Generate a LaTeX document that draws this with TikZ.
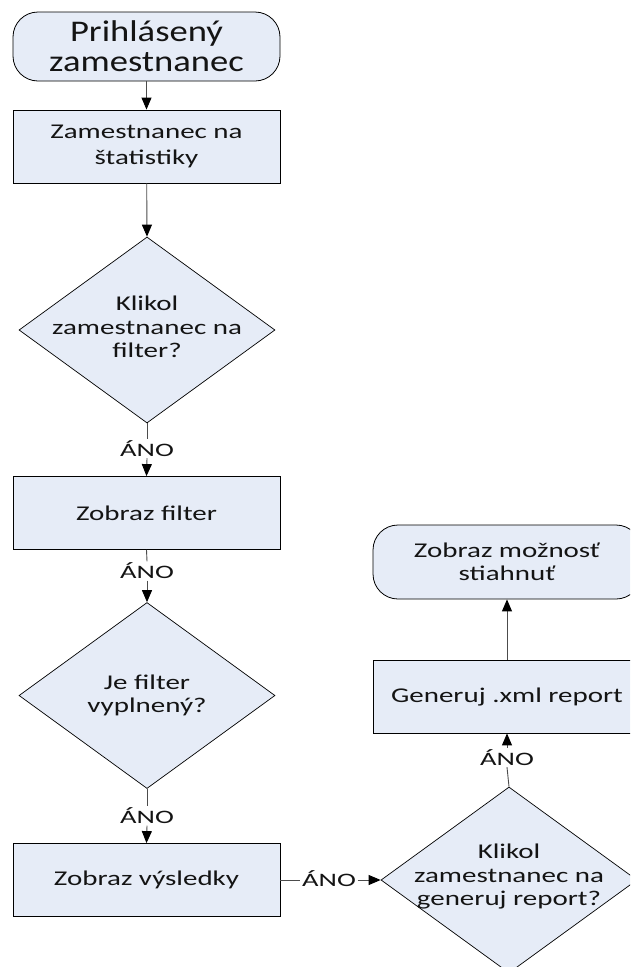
\documentclass[tikz,border=0pt]{standalone}
\usepackage{fontspec}
\setmainfont{Carlito}
\newfontfamily\topfont{Carlito}[FakeStretch=1.22]
\newfontfamily\bodyfont{Carlito}[FakeStretch=1.38]
\newfontfamily\anofont{Carlito}[FakeStretch=1.5]
\usetikzlibrary{shapes.geometric,arrows.meta}
\definecolor{boxfill}{RGB}{230,236,247}
\begin{document}
\begin{tikzpicture}[x=1pt,y=-1pt,
  every node/.style={inner sep=0pt, text=black!92},
  term/.style={rectangle, rounded corners=25pt, draw=black, line width=0.8pt, fill=boxfill,
    align=center, minimum width=267pt, minimum height=69pt},
  proc/.style={rectangle, draw=black, line width=0.8pt, fill=boxfill, align=center,
    minimum width=267pt, minimum height=73pt, font=\bodyfont\fontsize{21}{26.5}\selectfont},
  dec/.style={diamond, draw=black, line width=0.7pt, fill=boxfill,
    minimum width=256pt, minimum height=186pt},
  dectext/.style={align=center, font=\bodyfont\fontsize{21}{23.5}\selectfont},
  ano/.style={inner sep=1.5pt, font=\anofont\fontsize{19}{19}\selectfont},
  conn/.style={draw=black!70, line width=0.9pt},
  arr/.style={conn, -{Triangle[width=10pt,length=12pt,color=black]}}]
\useasboundingbox (0,0) rectangle (630,967);
\clip (0,0) rectangle (630,967);
\fill[white] (0,0) rectangle (630,967);

% left column
\node[term, font=\topfont\fontsize{30}{30}\selectfont] (t1) at (146.5,46.5) {Prihlásený\\zamestnanec};
\node[proc] (b1) at (146.5,146.5) {Zamestnanec na\\štatistiky};
\node[dec, label={[dectext, yshift=3pt]center:{Klikol\\zamestnanec na\\filter?}}] (d1) at (147,330) {};
\node[ano] (a1) at (147,448.5) {ÁNO};
\node[proc] (b2) at (146.5,513) {Zobraz filter};
\node[ano] (a2) at (147,571) {ÁNO};
\node[dec, label={[dectext]center:{Je filter\\vyplnený?}}] (d2) at (147,695.5) {};
\node[ano] (a3) at (147,816) {ÁNO};
\node[proc] (b3) at (146.5,880) {Zobraz výsledky};

% right column
\node[ano] (a4) at (329,878.5) {ÁNO};
\node[dec, label={[dectext, yshift=3pt]center:{Klikol\\zamestnanec na\\generuj report?}}] (d3) at (509,880) {};
\node[ano] (a5) at (507,757.5) {ÁNO};
\node[proc, minimum width=268pt] (b4) at (507,696.5) {Generuj .xml report};
\node[term, minimum width=268pt, minimum height=74pt, font=\bodyfont\fontsize{21}{23.5}\selectfont] (t2) at (507,562) {Zobraz možnosť\\stiahnuť};

% connectors
\draw[arr] (t1) -- (b1);
\draw[arr] (b1) -- (d1.north);
\draw[conn] (d1.south) -- (a1.north);
\draw[arr] (a1.south) -- (b2.north);
\draw[conn] (b2.south) -- (a2.north);
\draw[arr] (a2.south) -- (d2.north);
\draw[conn] (d2.south) -- (a3.north);
\draw[arr] (a3.south) -- (b3.north);
\draw[conn] (b3.east) -- (b3.east -| a4.west);
\draw[arr] (d3.west -| a4.east) -- (d3.west);
\draw[conn] (d3.north) -- (a5.south);
\draw[arr] (a5.north) -- (b4.south);
\draw[arr] (b4.north) -- (t2.south);
\end{tikzpicture}
\end{document}
